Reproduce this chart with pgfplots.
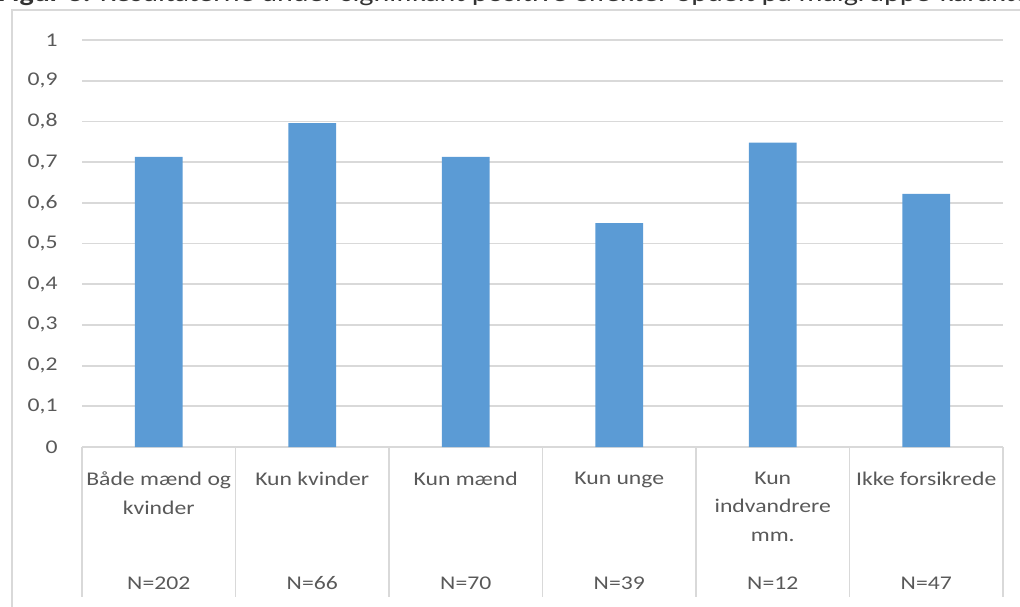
\documentclass[border=0pt]{standalone}
\usepackage{fontspec}
\setmainfont{Carlito}[FakeStretch=1.22]
\usepackage{pgfplots}
\pgfplotsset{compat=1.18}
\definecolor{barblue}{HTML}{5B9BD5}
\definecolor{gridgray}{HTML}{D9D9D9}
\definecolor{txtgray}{HTML}{595959}
\begin{document}
\begin{tikzpicture}
\clip (0,0) rectangle (510pt,303pt);
\path[use as bounding box] (0,0) rectangle (510pt,303pt);
% title (cut at top in reference)
\node[anchor=base west, inner sep=0pt, text=black!80, font=\fontsize{12.3}{14}\selectfont] at (-1pt,302.2pt)
  {\textbf{Figur 3:} Resultaterne under signifikant positive effekter opdelt på målgruppe-karakter};
% chart frame
\draw[gridgray, line width=0.8pt] (6pt,-10pt) -- (6pt,298pt) -- (530pt,298pt);
\begin{axis}[
  at={(41pt,79.5pt)}, anchor=south west,
  scale only axis, width=460.5pt, height=203.5pt,
  xmin=-0.5, xmax=5.5, ymin=0, ymax=1,
  axis line style={draw=none},
  major tick length=0pt,
  ytick={0,0.1,...,1.01},
  yticklabels={0,{0,1},{0,2},{0,3},{0,4},{0,5},{0,6},{0,7},{0,8},{0,9},1},
  yticklabel style={anchor=east, inner sep=0pt, xshift=-12pt, text=txtgray, font=\fontsize{9.7}{11}\selectfont},
  ymajorgrids, grid style={gridgray, line width=0.9pt},
  xtick={0,1,2,3,4,5},
  xticklabels={{Både mænd og\\kvinder},{Kun kvinder},{Kun mænd},{Kun unge},{Kun\\indvandrere\\mm.},{Ikke forsikrede}},
  xticklabel style={anchor=north, inner sep=0pt, yshift=-12.2pt, align=center, text=txtgray, font=\fontsize{9.7}{14.3}\selectfont},
  clip=false,
]
\addplot[ybar, bar width=0.31, fill=barblue, draw=none] coordinates {
  (0,0.713) (1,0.796) (2,0.713) (3,0.550) (4,0.748) (5,0.622)
};
\foreach \k in {-0.5,0.5,1.5,2.5,3.5,4.5,5.5} {
  \edef\temp{\noexpand\draw[gridgray, line width=0.9pt] (axis cs:\k,0) -- ++(0pt,-75pt);}
  \temp
}
\foreach \i/\n in {0/202,1/66,2/70,3/39,4/12,5/47} {
  \edef\temp{\noexpand\path (axis cs:\i,0) ++(0pt,-71pt) node[anchor=base, inner sep=0pt, text=txtgray, font=\noexpand\fontsize{9.7}{11}\noexpand\selectfont] {N=\n};}
  \temp
}
\end{axis}
\end{tikzpicture}
\end{document}
